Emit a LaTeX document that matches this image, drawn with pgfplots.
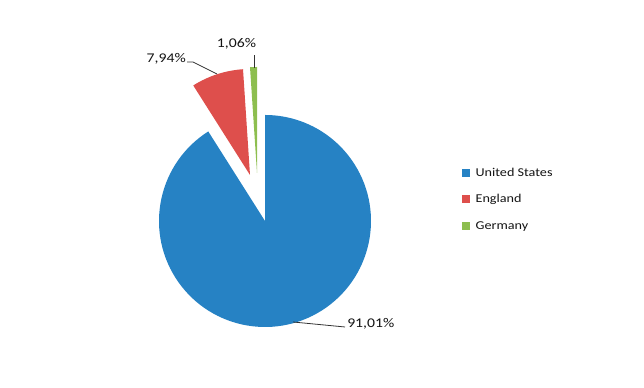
\documentclass[border=0pt]{standalone}
\usepackage{fontspec}
\setmainfont{Carlito}[FakeStretch=1.18]
\usepackage{pgfplots}
\usepackage{pgfplotstable}
\pgfplotsset{compat=1.18}
\definecolor{cUS}{RGB}{38,130,196}
\definecolor{cEN}{RGB}{222,79,76}
\definecolor{cDE}{RGB}{141,190,79}
\definecolor{leader}{RGB}{50,50,50}
\definecolor{txt}{RGB}{20,20,20}
\pgfplotstableread{
country value
US 91.01
EN 7.94
DE 1.06
}\piedata
\begin{document}
\begin{tikzpicture}
\pgfplotstablegetelem{0}{value}\of\piedata \let\vUS\pgfplotsretval
\pgfplotstablegetelem{1}{value}\of\piedata \let\vEN\pgfplotsretval
\pgfplotstablegetelem{2}{value}\of\piedata \let\vDE\pgfplotsretval
\pgfmathsetmacro\aA{90}
\pgfmathsetmacro\aB{90-3.6*\vUS}
\pgfmathsetmacro\aC{\aB-3.6*\vEN}
\pgfmathsetmacro\aD{\aC-3.6*\vDE}
\def\R{79.5pt}
\begin{axis}[
  x=0.75pt, y=0.75pt,
  xmin=0, xmax=644, ymin=0, ymax=388,
  hide axis, clip=false,
  legend image code/.code={\fill[#1, draw=none] (0pt,-3pt) rectangle (6pt,3pt); \path[draw=none, fill=none] (0pt,0pt) -- (9pt,0pt);},
  legend style={at={(axis cs:462,188.5)}, anchor=west, draw=none, fill=none,
    font=\fontsize{9}{11}\selectfont, text=txt, inner sep=0pt,
    nodes={inner sep=1pt, text height=7pt, text depth=2pt},
    row sep=9pt, cells={anchor=west},
    /tikz/every even column/.append style={column sep=0pt}},
]
\path (axis cs:0,0) rectangle (axis cs:644,388);
\addlegendimage{fill=cUS}\addlegendentry{United States}
\addlegendimage{fill=cEN}\addlegendentry{England}
\addlegendimage{fill=cDE}\addlegendentry{Germany}
% slices
\fill[cUS] (axis cs:265,167) -- ++(\aB:\R) arc[start angle=\aB, end angle=\aA, radius=\R] -- cycle;
\fill[cEN] (axis cs:250,213) -- ++(\aC:\R) arc[start angle=\aC, end angle=\aB, radius=\R] -- cycle;
\fill[cDE] (axis cs:257,215) -- ++(\aD:\R) arc[start angle=\aD, end angle=\aC, radius=\R] -- cycle;
% leader lines and labels
\draw[leader, line width=0.6pt] (axis cs:293,66) -- (axis cs:345,61);
\node[anchor=west, inner sep=0pt, text=txt, font=\fontsize{10}{12}\selectfont] at (axis cs:347,64) {91,01\%};
\draw[leader, line width=0.6pt] (axis cs:217,314) -- (axis cs:193,326) -- (axis cs:187,326);
\node[anchor=east, inner sep=0pt, text=txt, font=\fontsize{10}{12}\selectfont] at (axis cs:186,329) {7,94\%};
\draw[leader, line width=0.6pt] (axis cs:254,320) -- (axis cs:254,333);
\node[anchor=center, inner sep=0pt, text=txt, font=\fontsize{10}{12}\selectfont] at (axis cs:236.5,344) {1,06\%};
\end{axis}
\end{tikzpicture}
\end{document}
